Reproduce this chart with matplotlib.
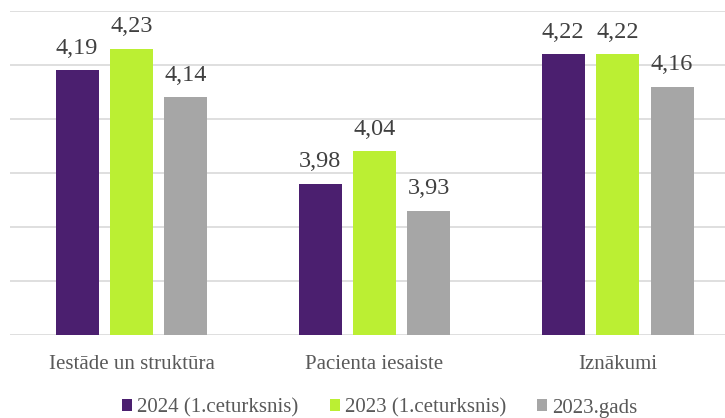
import matplotlib
matplotlib.use("Agg")
import matplotlib.pyplot as plt
import numpy as np

categories = ["Iestāde un struktūra", "Pacienta iesaiste", "Iznākumi"]
series_names = ["2024 (1.ceturksnis)", "2023 (1.ceturksnis)", "2023.gads"]
v2024q1 = [4.19, 3.98, 4.22]
v2023q1 = [4.23, 4.04, 4.22]
v2023 = [4.14, 3.93, 4.16]
colors = ["#4B1F6F", "#BBEF33", "#A6A6A6"]

plt.rcParams['font.family'] = ['Liberation Serif', 'DejaVu Serif']

fig = plt.figure(figsize=(7.25, 4.18), dpi=100)
W, H = 725, 418
ax = fig.add_axes([10 / W, 1 - 335 / H, (725 - 10) / W, (335 - 11) / H])

x = np.arange(len(categories))
bw = 0.177
off = 0.224
for i, (vals, name, c) in enumerate(zip([v2024q1, v2023q1, v2023], series_names, colors)):
    pos = x + (i - 1) * off
    ax.bar(pos, vals, width=bw, color=c, label=name, zorder=3)
    for p, v in zip(pos, vals):
        ax.annotate(f"{v:.2f}".replace(".", ","), (p, v), xytext=(0, 12),
                    textcoords="offset points", ha="center", va="baseline",
                    fontsize=17.5, color="#404040")

ax.set_ylim(3.7, 4.3)
ax.set_xlim(-0.5, 2.442)
ax.set_yticks(np.arange(3.7, 4.31, 0.1))
ax.yaxis.grid(True, color="#D9D9D9", linewidth=1.2, zorder=0)
ax.tick_params(axis="y", left=False, labelleft=False)
ax.tick_params(axis="x", bottom=False, labelsize=15, labelcolor="#595959", pad=11)
ax.set_xticks(x)
ax.set_xticklabels(categories)
for s in ax.spines.values():
    s.set_visible(False)

leg = fig.legend(loc="center", bbox_to_anchor=(380 / W, 1 - 408 / H), ncol=3, frameon=False,
                 fontsize=15, handlelength=0.48, handleheight=0.48, handletextpad=0.24,
                 columnspacing=1.5, borderpad=0, borderaxespad=0)
for t in leg.get_texts():
    t.set_color("#595959")

fig.savefig("out.png", dpi=100)
